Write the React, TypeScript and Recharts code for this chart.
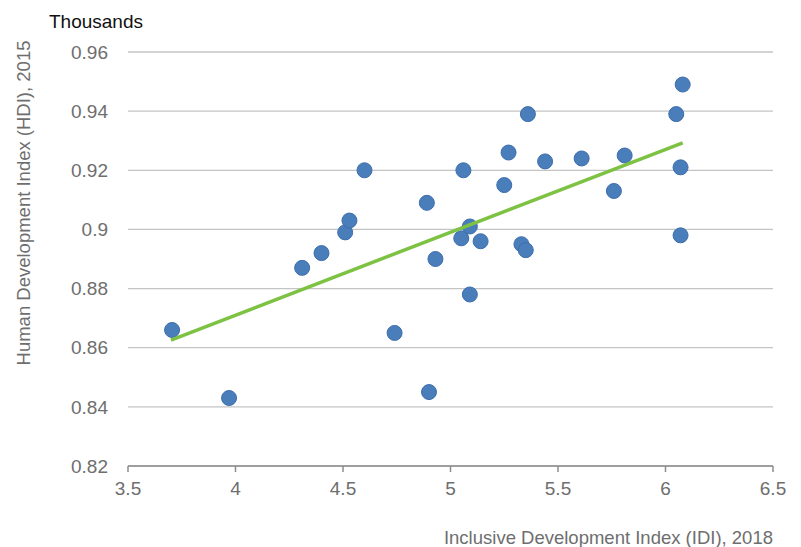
import { ScatterChart, Scatter, XAxis, YAxis, CartesianGrid, Label } from 'recharts';

// Inclusive Development Index (IDI), 2018
const idi = [
  3.705, 3.97, 4.31, 4.4, 4.51, 4.53, 4.6, 4.74, 4.89, 4.9, 4.93, 5.05, 5.06, 5.09, 5.09,
  5.14, 5.25, 5.27, 5.33, 5.35, 5.36, 5.44, 5.61, 5.76, 5.81, 6.05, 6.07, 6.07, 6.08,
];
// Human Development Index (HDI), 2015
const hdi = [
  0.866, 0.843, 0.887, 0.892, 0.899, 0.903, 0.92, 0.865, 0.909, 0.845, 0.89, 0.897, 0.92, 0.901, 0.878,
  0.896, 0.915, 0.926, 0.895, 0.893, 0.939, 0.923, 0.924, 0.913, 0.925, 0.939, 0.921, 0.898, 0.949,
];
// linear trend line end points
const trendX = [3.7, 6.08];
const trendY = [0.8626, 0.9293];

const xTicks = [3.5, 4, 4.5, 5, 5.5, 6, 6.5];
const yTicks = [0.82, 0.84, 0.86, 0.88, 0.9, 0.92, 0.94, 0.96];

const points = idi.map((x, i) => ({ x, y: hdi[i] }));
const trend = trendX.map((x, i) => ({ x, y: trendY[i] }));

const font = '"Liberation Sans", Arial, sans-serif';
const tickStyle = { fill: '#6e6e6e', fontSize: 19, fontFamily: font };

const Dot = (props: any) => (
  <circle cx={props.cx} cy={props.cy} r={7.5} fill="#4a7ebb" stroke="#3d6dab" strokeWidth={1} />
);

export default function App() {
  return (
    <div style={{ position: 'absolute', left: 0, top: 0, background: '#fff' }}>
      <ScatterChart width={801} height={547} margin={{ top: 52, right: 28, bottom: 3, left: 68 }}>
        <CartesianGrid vertical={false} stroke="#c4c4c4" strokeWidth={1.3} />
        <XAxis
          type="number"
          dataKey="x"
          domain={[3.5, 6.5]}
          ticks={xTicks}
          height={78}
          stroke="#8c8c8c"
          strokeWidth={1.5}
          tickSize={6}
          tickMargin={10}
          tick={tickStyle}
        >
          <Label
            value="Inclusive Development Index (IDI), 2018"
            position="insideBottomRight"
            offset={0}
            style={{ fill: '#6e6e6e', fontSize: 18.5, fontFamily: font }}
          />
        </XAxis>
        <YAxis
          type="number"
          dataKey="y"
          domain={[0.82, 0.96]}
          ticks={yTicks}
          width={60}
          axisLine={false}
          tickLine={false}
          tickSize={0}
          tickMargin={20}
          tick={tickStyle}
        >
          <Label
            content={() => (
              <text
                x={30}
                y={203}
                transform="rotate(-90 30 203)"
                textAnchor="middle"
                fill="#6e6e6e"
                fontSize={18.5}
                fontFamily={font}
              >
                Human Development Index (HDI), 2015
              </text>
            )}
          />
          <Label
            content={() => (
              <text x={49} y={28} fill="#111" fontSize={19} fontFamily={font}>
                Thousands
              </text>
            )}
          />
        </YAxis>
        <Scatter data={points} shape={Dot} isAnimationActive={false} />
        <Scatter
          data={trend}
          line={{ stroke: '#7dc242', strokeWidth: 3.5 }}
          lineType="joint"
          shape={() => null}
          isAnimationActive={false}
        />
      </ScatterChart>
    </div>
  );
}
